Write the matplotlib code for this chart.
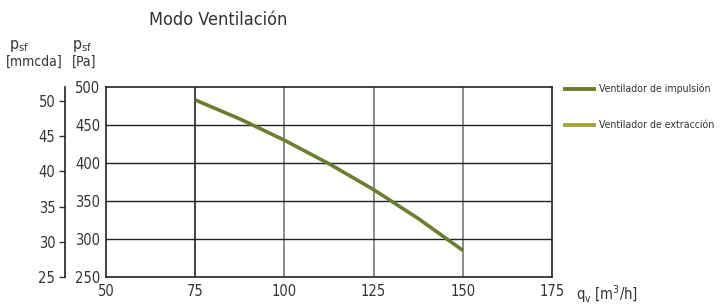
import matplotlib
matplotlib.use("Agg")
import matplotlib.pyplot as plt
import numpy as np

plt.rcParams['font.family'] = ['DejaVu Sans']
plt.rcParams['font.stretch'] = 'condensed'

title = "Modo Ventilación"
q_impulsion = [75, 87.5, 100, 112.5, 125, 137.5, 150]
p_impulsion = [483, 458, 430, 399, 365, 327, 285]
series_names = ["Ventilador de impulsión", "Ventilador de extracción"]
series_colors = ["#6b7d2e", "#a5a53c"]
x_ticks = [50, 75, 100, 125, 150, 175]
pa_ticks = [250, 300, 350, 400, 450, 500]
mmcda_ticks = [25, 30, 35, 40, 45, 50]

W, H = 721, 305
fig = plt.figure(figsize=(W/100, H/100), dpi=100)
ax = fig.add_axes([106/W, 1-277/H, (552-106)/W, (277-87)/H])
ax.set_xlim(50, 175)
ax.set_ylim(250, 500)
ax.set_xticks(x_ticks)
ax.set_yticks(pa_ticks)
ax.tick_params(length=0, labelsize=10.5, colors='#333333', pad=4)
ax.tick_params(axis='x', pad=5)
for s in ax.spines.values():
    s.set_color('#222222'); s.set_linewidth(1.2)
for xv in x_ticks[1:-1]:
    ax.axvline(xv, color='#777777' if xv != 75 else '#222222', lw=1.2, zorder=1)
for yv in pa_ticks[1:-1]:
    ax.axhline(yv, color='#222222', lw=1.0, zorder=1)

ax.plot(q_impulsion, p_impulsion, color=series_colors[0], lw=2.6, zorder=3,
        solid_capstyle='butt', solid_joinstyle='round')

ax2 = fig.add_axes([65/W, 1-277/H, 0.0001, (277-87)/H])
ax2.set_ylim(25, 25 + 190/35.2*5)
ax2.set_yticks(mmcda_ticks)
ax2.set_xticks([])
for k in ['top', 'right', 'bottom']:
    ax2.spines[k].set_visible(False)
ax2.spines['left'].set_color('#222222')
ax2.spines['left'].set_linewidth(1.2)
ax2.tick_params(axis='y', length=4, width=1, labelsize=10.5, colors='#333333', pad=3)
ax2.patch.set_visible(False)

fig.text(149/W, 1-20/H, title, fontsize=13, color='#333333', va='center', ha='left')
fig.text(9/W, 1-46/H, r"p$_{\mathregular{sf}}$", fontsize=11.5, color='#333333', va='center')
fig.text(6/W, 1-62/H, "[mmcda]", fontsize=10, color='#333333', va='center')
fig.text(72/W, 1-46/H, r"p$_{\mathregular{sf}}$", fontsize=11.5, color='#333333', va='center')
fig.text(72/W, 1-62/H, "[Pa]", fontsize=10, color='#333333', va='center')
fig.text(576/W, 1-294/H, r"q$_{\mathregular{v}}$ [m$^{\mathregular{3}}$/h]", fontsize=10.5,
         color='#333333', va='center')

for i, (name, col) in enumerate(zip(series_names, series_colors)):
    y = 1 - (89 + 36*i)/H
    fig.add_artist(plt.Line2D([565/W, 594/W], [y, y], color=col, lw=2.8,
                              transform=fig.transFigure))
    fig.text(599/W, y, name, fontsize=7.6, color='#333333', va='center')

fig.savefig("out.png", dpi=100)
